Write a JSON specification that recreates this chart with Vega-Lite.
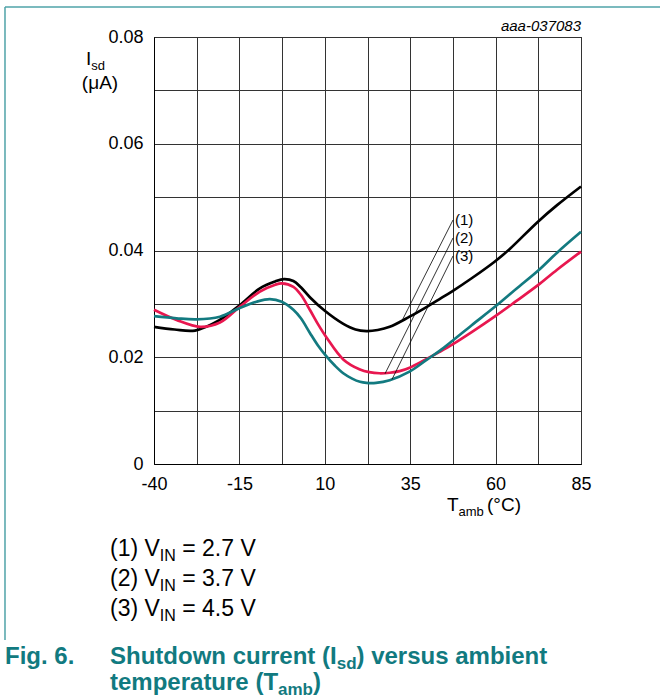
{
  "$schema": "https://vega.github.io/schema/vega-lite/v6.json",
  "width": 427,
  "height": 427,
  "autosize": {"type": "none"},
  "padding": {"left": 154, "top": 37, "right": 79, "bottom": 236},
  "background": "white",
  "config": {
    "view": {"stroke": "#000", "strokeWidth": 1},
    "font": "Liberation Sans"
  },
  "datasets": {
    "curves": [
      {"s": "1", "x": -40, "y": 0.0257}, {"s": "1", "x": -34, "y": 0.0252}, {"s": "1", "x": -28, "y": 0.0250},
      {"s": "1", "x": -21, "y": 0.0269}, {"s": "1", "x": -15, "y": 0.0297}, {"s": "1", "x": -9, "y": 0.0329},
      {"s": "1", "x": -4.5, "y": 0.0342}, {"s": "1", "x": -2, "y": 0.03465}, {"s": "1", "x": 0.8, "y": 0.0343},
      {"s": "1", "x": 3, "y": 0.0331}, {"s": "1", "x": 5.7, "y": 0.0312}, {"s": "1", "x": 10, "y": 0.0287},
      {"s": "1", "x": 15.3, "y": 0.0263}, {"s": "1", "x": 19, "y": 0.0252}, {"s": "1", "x": 22.2, "y": 0.0249},
      {"s": "1", "x": 25.5, "y": 0.0251}, {"s": "1", "x": 29, "y": 0.0257}, {"s": "1", "x": 34.8, "y": 0.0276},
      {"s": "1", "x": 40, "y": 0.0295}, {"s": "1", "x": 43.6, "y": 0.0309}, {"s": "1", "x": 47.4, "y": 0.0324},
      {"s": "1", "x": 53, "y": 0.0348}, {"s": "1", "x": 59.7, "y": 0.0379}, {"s": "1", "x": 64, "y": 0.0402},
      {"s": "1", "x": 72.4, "y": 0.0454}, {"s": "1", "x": 78, "y": 0.0485}, {"s": "1", "x": 85, "y": 0.0520},

      {"s": "2", "x": -40, "y": 0.0289}, {"s": "2", "x": -33.4, "y": 0.0270}, {"s": "2", "x": -26.5, "y": 0.0257},
      {"s": "2", "x": -20.7, "y": 0.0265}, {"s": "2", "x": -15, "y": 0.0294}, {"s": "2", "x": -9, "y": 0.0323},
      {"s": "2", "x": -4.5, "y": 0.0336}, {"s": "2", "x": -2.6, "y": 0.03385}, {"s": "2", "x": 0.8, "y": 0.0332},
      {"s": "2", "x": 3, "y": 0.0317}, {"s": "2", "x": 5.7, "y": 0.0288}, {"s": "2", "x": 8, "y": 0.0262},
      {"s": "2", "x": 10.5, "y": 0.0237}, {"s": "2", "x": 15.4, "y": 0.0196}, {"s": "2", "x": 20.3, "y": 0.0177},
      {"s": "2", "x": 23, "y": 0.0172}, {"s": "2", "x": 26, "y": 0.0170}, {"s": "2", "x": 29, "y": 0.0171},
      {"s": "2", "x": 31.9, "y": 0.0174}, {"s": "2", "x": 35, "y": 0.0181}, {"s": "2", "x": 38.7, "y": 0.0193},
      {"s": "2", "x": 43.6, "y": 0.0210}, {"s": "2", "x": 47.4, "y": 0.0224}, {"s": "2", "x": 53, "y": 0.0247},
      {"s": "2", "x": 59.7, "y": 0.0276}, {"s": "2", "x": 66, "y": 0.0305}, {"s": "2", "x": 72.4, "y": 0.0335},
      {"s": "2", "x": 78, "y": 0.0364}, {"s": "2", "x": 85, "y": 0.0398},

      {"s": "3", "x": -40, "y": 0.0277}, {"s": "3", "x": -33.4, "y": 0.0273}, {"s": "3", "x": -27.5, "y": 0.0271},
      {"s": "3", "x": -20.7, "y": 0.0276}, {"s": "3", "x": -15, "y": 0.0292}, {"s": "3", "x": -10, "y": 0.0304},
      {"s": "3", "x": -6.1, "y": 0.0309}, {"s": "3", "x": -2.6, "y": 0.0304}, {"s": "3", "x": 0.8, "y": 0.0289},
      {"s": "3", "x": 3, "y": 0.0273}, {"s": "3", "x": 5.6, "y": 0.0246}, {"s": "3", "x": 8, "y": 0.0222},
      {"s": "3", "x": 10.3, "y": 0.0203}, {"s": "3", "x": 13, "y": 0.0184}, {"s": "3", "x": 15.4, "y": 0.0170},
      {"s": "3", "x": 18, "y": 0.0160}, {"s": "3", "x": 20.3, "y": 0.0154}, {"s": "3", "x": 22.2, "y": 0.0152},
      {"s": "3", "x": 25, "y": 0.0152}, {"s": "3", "x": 29, "y": 0.0157}, {"s": "3", "x": 34.8, "y": 0.0173},
      {"s": "3", "x": 40, "y": 0.0196}, {"s": "3", "x": 43.6, "y": 0.0212}, {"s": "3", "x": 47.4, "y": 0.0231},
      {"s": "3", "x": 53, "y": 0.0260}, {"s": "3", "x": 59.7, "y": 0.0294}, {"s": "3", "x": 66, "y": 0.0328},
      {"s": "3", "x": 72.4, "y": 0.0362}, {"s": "3", "x": 78, "y": 0.0396}, {"s": "3", "x": 85, "y": 0.0435}
    ],
    "leaders": [
      {"x": 47.53, "y": 0.045714, "x2": 32.60, "y2": 0.02685},
      {"x": 47.53, "y": 0.042342, "x2": 27.62, "y2": 0.01690},
      {"x": 47.53, "y": 0.038970, "x2": 29.67, "y2": 0.01585}
    ],
    "frame": [
      {"x": -83.62, "y": 0.085621, "x2": 108.13, "y2": 0.085621},
      {"x": -83.62, "y": 0.085621, "x2": -83.62, "y2": -0.032974}
    ],
    "code": [{"x": 85, "y": 0.081124, "t": "aaa-037083"}],
    "ytitle": [{"x": -55.81, "y": 0.070258, "t": "(μA)"}],
    "titlesL": [
      {"x": -59.91, "y": 0.074754, "t": "I"},
      {"x": 45.77, "y": -0.0088056, "t": "T"},
      {"x": 57.48, "y": -0.0088056, "t": "(°C)"}
    ],
    "titleSubs": [
      {"x": -58.35, "y": 0.073817, "t": "sd"},
      {"x": 49.12, "y": -0.0097424, "t": "amb"}
    ],
    "labels": [
      {"x": 48.11, "y": 0.044778, "t": "(1)"},
      {"x": 48.11, "y": 0.041405, "t": "(2)"},
      {"x": 48.11, "y": 0.038033, "t": "(3)"}
    ],
    "notes": [
      {"x": -52.88, "y": -0.017237, "t": "(1) V"},
      {"x": -31.74, "y": -0.017237, "t": "= 2.7 V"},
      {"x": -52.88, "y": -0.022857, "t": "(2) V"},
      {"x": -31.74, "y": -0.022857, "t": "= 3.7 V"},
      {"x": -52.88, "y": -0.028478, "t": "(3) V"},
      {"x": -31.74, "y": -0.028478, "t": "= 4.5 V"}
    ],
    "noteSubs": [
      {"x": -38.30, "y": -0.018173, "t": "IN"},
      {"x": -38.30, "y": -0.023794, "t": "IN"},
      {"x": -38.30, "y": -0.029415, "t": "IN"}
    ],
    "caption": [
      {"x": -83.62, "y": -0.037471, "t": "Fig. 6."},
      {"x": -52.88, "y": -0.037471, "t": "Shutdown current (I"},
      {"x": 19.28, "y": -0.037471, "t": ") versus ambient"},
      {"x": -52.88, "y": -0.042342, "t": "temperature (T"},
      {"x": 6.55, "y": -0.042342, "t": ")"}
    ],
    "captionSubs": [
      {"x": 13.48, "y": -0.038408, "t": "sd"},
      {"x": -3.70, "y": -0.043279, "t": "amb"}
    ]
  },
  "encoding": {
    "x": {
      "field": "x", "type": "quantitative",
      "scale": {"domain": [-40, 85], "nice": false, "zero": false},
      "axis": {
        "title": null,
        "values": [-40, -27.5, -15, -2.5, 10, 22.5, 35, 47.5, 60, 72.5, 85],
        "labelExpr": "(datum.value + 40) % 25 == 0 ? '' + datum.value : ''",
        "grid": true, "gridColor": "#333", "gridWidth": 1, "gridOpacity": 1,
        "ticks": false, "domainColor": "#000", "domainWidth": 1,
        "labelFont": "Liberation Sans", "labelFontSize": 18, "labelColor": "#000",
        "labelPadding": 11, "labelFlush": false, "labelOverlap": false, "labelBound": false
      }
    },
    "y": {
      "field": "y", "type": "quantitative",
      "scale": {"domain": [0, 0.08], "nice": false, "zero": false},
      "axis": {
        "title": null,
        "values": [0, 0.01, 0.02, 0.03, 0.04, 0.05, 0.06, 0.07, 0.08],
        "labelExpr": "round(datum.value * 100) % 2 == 0 ? (datum.value == 0 ? '0' : format(datum.value, '.2f')) : ''",
        "grid": true, "gridColor": "#333", "gridWidth": 1, "gridOpacity": 1,
        "ticks": false, "domainColor": "#000", "domainWidth": 1,
        "labelFont": "Liberation Sans", "labelFontSize": 18, "labelColor": "#000",
        "labelPadding": 11, "labelFlush": false, "labelOverlap": false, "labelBound": false
      }
    }
  },
  "layer": [
    {
      "data": {"name": "curves"},
      "mark": {"type": "line", "interpolate": "catmull-rom", "strokeWidth": 2.7},
      "encoding": {
        "color": {
          "field": "s", "type": "nominal",
          "scale": {"domain": ["1", "2", "3"], "range": ["#000000", "#e8174f", "#137a80"]},
          "legend": null
        }
      }
    },
    {
      "data": {"name": "leaders"},
      "mark": {"type": "rule", "color": "#000", "strokeWidth": 0.8},
      "encoding": {"x2": {"field": "x2"}, "y2": {"field": "y2"}}
    },
    {
      "data": {"name": "frame"},
      "mark": {"type": "rule", "color": "#4fa3a8", "strokeWidth": 1.5},
      "encoding": {"x2": {"field": "x2"}, "y2": {"field": "y2"}}
    },
    {
      "data": {"name": "code"},
      "mark": {"type": "text", "align": "right", "baseline": "alphabetic", "fontSize": 15, "fontStyle": "italic", "font": "Liberation Sans", "color": "#000"},
      "encoding": {"text": {"field": "t"}}
    },
    {
      "data": {"name": "ytitle"},
      "mark": {"type": "text", "align": "center", "baseline": "alphabetic", "fontSize": 19, "font": "Liberation Sans", "color": "#000"},
      "encoding": {"text": {"field": "t"}}
    },
    {
      "data": {"name": "titlesL"},
      "mark": {"type": "text", "align": "left", "baseline": "alphabetic", "fontSize": 19, "font": "Liberation Sans", "color": "#000"},
      "encoding": {"text": {"field": "t"}}
    },
    {
      "data": {"name": "titleSubs"},
      "mark": {"type": "text", "align": "left", "baseline": "alphabetic", "fontSize": 13, "font": "Liberation Sans", "color": "#000"},
      "encoding": {"text": {"field": "t"}}
    },
    {
      "data": {"name": "labels"},
      "mark": {"type": "text", "align": "left", "baseline": "alphabetic", "fontSize": 15, "font": "Liberation Sans", "color": "#000"},
      "encoding": {"text": {"field": "t"}}
    },
    {
      "data": {"name": "notes"},
      "mark": {"type": "text", "align": "left", "baseline": "alphabetic", "fontSize": 23, "font": "Liberation Sans", "color": "#000"},
      "encoding": {"text": {"field": "t"}}
    },
    {
      "data": {"name": "noteSubs"},
      "mark": {"type": "text", "align": "left", "baseline": "alphabetic", "fontSize": 16, "font": "Liberation Sans", "color": "#000"},
      "encoding": {"text": {"field": "t"}}
    },
    {
      "data": {"name": "caption"},
      "mark": {"type": "text", "align": "left", "baseline": "alphabetic", "fontSize": 24, "fontWeight": "bold", "font": "Liberation Sans", "color": "#117a80"},
      "encoding": {"text": {"field": "t"}}
    },
    {
      "data": {"name": "captionSubs"},
      "mark": {"type": "text", "align": "left", "baseline": "alphabetic", "fontSize": 17, "fontWeight": "bold", "font": "Liberation Sans", "color": "#117a80"},
      "encoding": {"text": {"field": "t"}}
    }
  ]
}
